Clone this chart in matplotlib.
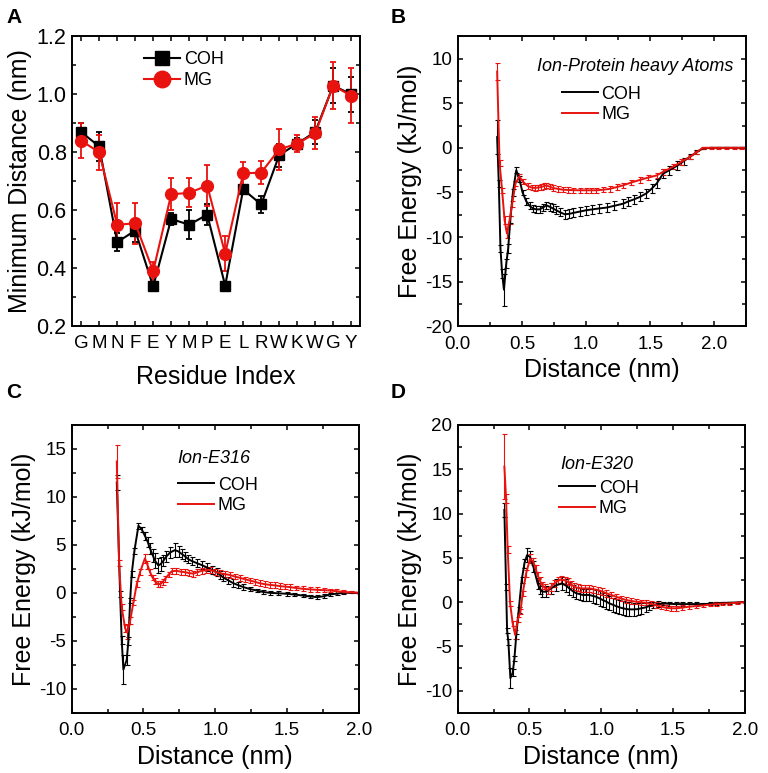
import matplotlib
matplotlib.use("Agg")
import matplotlib.pyplot as plt
from matplotlib.ticker import MultipleLocator, FixedLocator

plt.rcParams["font.family"] = ["Liberation Sans", "DejaVu Sans"]
plt.rcParams["axes.unicode_minus"] = False

# ---- panel A: minimum distance per residue
residues = ["G", "M", "N", "F", "E", "Y", "M", "P", "E", "L", "R", "W", "K", "W", "G", "Y"]
a_coh = [0.87, 0.82, 0.49, 0.53, 0.337, 0.57, 0.55, 0.585, 0.34, 0.672, 0.62, 0.79, 0.83, 0.87, 1.03, 1.0]
a_coh_err = [0.03, 0.05, 0.03, 0.04, 0.01, 0.02, 0.05, 0.035, 0.01, 0.015, 0.03, 0.04, 0.02, 0.04, 0.06, 0.06]
a_mg = [0.84, 0.80, 0.55, 0.555, 0.39, 0.655, 0.66, 0.685, 0.45, 0.727, 0.73, 0.81, 0.83, 0.865, 1.03, 0.995]
a_mg_err = [0.06, 0.06, 0.075, 0.07, 0.03, 0.055, 0.05, 0.07, 0.06, 0.04, 0.04, 0.07, 0.03, 0.055, 0.08, 0.095]

# ---- panels B-D: free energy profiles, (distance nm, energy kJ/mol, error)
b_coh = [(0.307, 1.2, 1.9), (0.32, -4.0, 0.4), (0.333, -11.3, 0.4), (0.346, -14.1, 0.5), (0.36, -15.9, 1.8),
         (0.378, -13.0, 0.5), (0.393, -11.3, 0.5), (0.41, -8.0, 0.4), (0.43, -5.0, 0.4), (0.456, -2.5, 0.3),
         (0.48, -3.5, 0.3), (0.505, -5.0, 0.3), (0.534, -6.0, 0.4), (0.56, -6.5, 0.4), (0.586, -6.8, 0.4),
         (0.612, -6.9, 0.4), (0.638, -6.9, 0.4), (0.664, -6.7, 0.4), (0.69, -6.45, 0.4), (0.716, -6.6, 0.45),
         (0.742, -6.8, 0.45), (0.768, -7.0, 0.45), (0.794, -7.2, 0.5), (0.833, -7.45, 0.5), (0.87, -7.4, 0.5),
         (0.9, -7.3, 0.5), (0.95, -7.15, 0.5), (1.0, -7.0, 0.5), (1.05, -6.9, 0.5), (1.1, -6.8, 0.5),
         (1.16, -6.7, 0.5), (1.22, -6.5, 0.5), (1.29, -6.26, 0.5), (1.33, -6.0, 0.5), (1.37, -5.8, 0.5),
         (1.42, -5.5, 0.5), (1.47, -5.1, 0.5), (1.51, -4.6, 0.5), (1.55, -4.0, 0.5), (1.6, -2.9, 0.5),
         (1.65, -2.5, 0.5), (1.71, -2.0, 0.5), (1.76, -1.5, 0.4), (1.81, -1.0, 0.3), (1.86, -0.5, 0.2),
         (1.91, -0.07, 0.1), (1.97, 0.0, 0.05), (2.03, 0.0, 0.05), (2.09, 0.0, 0.05), (2.15, 0.0, 0.05),
         (2.21, 0.0, 0.05), (2.25, 0.0, 0.05)]
b_mg = [(0.307, 8.55, 1.0), (0.326, -1.7, 0.3), (0.346, -4.8, 0.3), (0.365, -8.1, 0.4), (0.383, -9.6, 0.5),
        (0.404, -8.1, 0.4), (0.424, -6.3, 0.3), (0.45, -4.0, 0.3), (0.48, -3.2, 0.3), (0.508, -3.8, 0.3),
        (0.547, -4.3, 0.3), (0.575, -4.45, 0.3), (0.6, -4.5, 0.3), (0.625, -4.45, 0.3), (0.65, -4.4, 0.3),
        (0.67, -4.3, 0.3), (0.69, -4.2, 0.3), (0.716, -4.35, 0.3), (0.742, -4.5, 0.3), (0.78, -4.6, 0.3),
        (0.82, -4.7, 0.3), (0.86, -4.72, 0.3), (0.9, -4.75, 0.3), (0.95, -4.76, 0.3), (1.0, -4.76, 0.3),
        (1.04, -4.76, 0.3), (1.08, -4.76, 0.3), (1.13, -4.7, 0.3), (1.185, -4.6, 0.3), (1.24, -4.4, 0.3),
        (1.29, -4.2, 0.3), (1.35, -3.9, 0.3), (1.42, -3.6, 0.3), (1.48, -3.35, 0.3), (1.55, -3.1, 0.3),
        (1.6, -2.7, 0.3), (1.68, -2.1, 0.3), (1.74, -1.6, 0.3), (1.81, -1.0, 0.2), (1.86, -0.5, 0.15),
        (1.91, 0.0, 0.1), (1.97, 0.0, 0.1), (2.03, 0.0, 0.1), (2.09, 0.0, 0.1), (2.15, 0.0, 0.1),
        (2.21, 0.0, 0.1), (2.25, 0.0, 0.1)]

c_coh = [(0.314, 11.5, 0.8), (0.337, -0.1, 0.3), (0.348, -4.9, 0.4), (0.36, -8.0, 1.5), (0.383, -7.0, 0.5),
         (0.395, -5.0, 0.4), (0.407, -0.8, 0.3), (0.418, 2.0, 0.3), (0.437, 4.4, 0.3), (0.465, 7.0, 0.3),
         (0.488, 6.6, 0.3), (0.51, 5.95, 0.4), (0.53, 5.3, 0.5), (0.546, 4.6, 0.6), (0.565, 3.9, 0.7),
         (0.58, 3.35, 0.8), (0.604, 2.85, 0.8), (0.62, 3.0, 0.7), (0.639, 3.35, 0.6), (0.66, 3.8, 0.6),
         (0.685, 4.2, 0.6), (0.72, 4.46, 0.7), (0.745, 4.3, 0.6), (0.767, 4.05, 0.5), (0.79, 3.8, 0.5),
         (0.813, 3.5, 0.4), (0.84, 3.3, 0.4), (0.871, 3.1, 0.4), (0.905, 2.9, 0.4), (0.94, 2.66, 0.4),
         (0.975, 2.4, 0.4), (1.01, 2.15, 0.4), (1.035, 1.85, 0.4), (1.057, 1.6, 0.4), (1.09, 1.3, 0.4),
         (1.127, 1.0, 0.4), (1.16, 0.8, 0.3), (1.196, 0.6, 0.3), (1.24, 0.4, 0.2), (1.29, 0.24, 0.2),
         (1.33, 0.1, 0.2), (1.38, 0.0, 0.2), (1.44, -0.05, 0.2), (1.5, -0.1, 0.2), (1.55, -0.18, 0.2),
         (1.61, -0.28, 0.2), (1.66, -0.38, 0.2), (1.71, -0.45, 0.2), (1.76, -0.35, 0.2), (1.8, -0.17, 0.15),
         (1.85, -0.08, 0.1), (1.89, 0.0, 0.1), (1.95, 0.0, 0.05), (2.0, 0.0, 0.05)]
c_mg = [(0.314, 13.7, 1.7), (0.33, 3.1, 0.3), (0.348, -1.5, 0.3), (0.372, -3.7, 0.4), (0.388, -4.1, 0.7),
        (0.407, -2.9, 0.4), (0.43, -1.0, 0.3), (0.453, 0.9, 0.3), (0.476, 2.15, 0.3), (0.51, 3.6, 0.5),
        (0.528, 2.9, 0.4), (0.546, 2.15, 0.3), (0.563, 1.6, 0.3), (0.58, 1.2, 0.3), (0.598, 0.95, 0.3),
        (0.616, 0.9, 0.3), (0.633, 1.1, 0.3), (0.65, 1.45, 0.3), (0.675, 1.9, 0.3), (0.697, 2.25, 0.3),
        (0.73, 2.3, 0.3), (0.76, 2.2, 0.3), (0.79, 2.15, 0.3), (0.82, 2.05, 0.3), (0.848, 2.0, 0.3),
        (0.876, 2.15, 0.3), (0.906, 2.3, 0.3), (0.935, 2.35, 0.3), (0.964, 2.4, 0.3), (1.0, 2.2, 0.3),
        (1.034, 2.04, 0.3), (1.067, 1.95, 0.3), (1.1, 1.87, 0.3), (1.136, 1.7, 0.3), (1.173, 1.56, 0.3),
        (1.21, 1.4, 0.3), (1.243, 1.28, 0.3), (1.276, 1.15, 0.3), (1.31, 1.0, 0.3), (1.345, 0.9, 0.3),
        (1.38, 0.83, 0.3), (1.415, 0.78, 0.3), (1.45, 0.7, 0.3), (1.485, 0.65, 0.3), (1.52, 0.6, 0.3),
        (1.565, 0.5, 0.25), (1.61, 0.42, 0.25), (1.66, 0.36, 0.25), (1.71, 0.31, 0.25), (1.755, 0.28, 0.2),
        (1.8, 0.24, 0.2), (1.845, 0.17, 0.2), (1.89, 0.1, 0.15), (1.945, 0.05, 0.1), (2.0, 0.0, 0.1)]

d_coh = [(0.325, 10.4, 0.8), (0.337, 1.7, 0.3), (0.344, -3.2, 0.3), (0.353, -4.5, 0.3), (0.367, -8.6, 1.1),
         (0.383, -8.0, 0.4), (0.395, -6.4, 0.3), (0.407, -3.9, 0.3), (0.425, -0.9, 0.3), (0.446, 2.5, 0.3),
         (0.465, 4.4, 0.5), (0.483, 5.3, 0.8), (0.504, 5.1, 0.7), (0.527, 4.0, 0.6), (0.557, 2.1, 0.6),
         (0.572, 1.5, 0.6), (0.588, 1.17, 0.6), (0.616, 1.17, 0.6), (0.65, 1.54, 0.6), (0.685, 1.9, 0.7),
         (0.727, 2.1, 0.7), (0.755, 1.85, 0.7), (0.778, 1.54, 0.7), (0.8, 1.25, 0.7), (0.825, 1.0, 0.7),
         (0.85, 0.9, 0.7), (0.87, 0.8, 0.7), (0.895, 0.8, 0.7), (0.917, 0.8, 0.7), (0.94, 0.7, 0.8),
         (0.964, 0.6, 0.8), (0.99, 0.4, 0.8), (1.01, 0.23, 0.8), (1.035, 0.05, 0.8), (1.057, -0.15, 0.8),
         (1.08, -0.3, 0.8), (1.103, -0.45, 0.8), (1.127, -0.6, 0.8), (1.15, -0.7, 0.8), (1.173, -0.78, 0.8),
         (1.196, -0.83, 0.8), (1.225, -0.83, 0.7), (1.254, -0.8, 0.7), (1.28, -0.7, 0.6), (1.31, -0.6, 0.5),
         (1.335, -0.45, 0.4), (1.36, -0.34, 0.3), (1.395, -0.22, 0.3), (1.43, -0.15, 0.2), (1.475, -0.2, 0.2),
         (1.52, -0.23, 0.2), (1.565, -0.23, 0.2), (1.61, -0.23, 0.2), (1.66, -0.23, 0.2), (1.71, -0.23, 0.15),
         (1.755, -0.2, 0.15), (1.8, -0.15, 0.15), (1.845, -0.1, 0.1), (1.89, -0.08, 0.1), (1.945, -0.04, 0.1),
         (2.0, 0.0, 0.1)]
d_mg = [(0.325, 15.3, 3.7), (0.337, 11.7, 0.5), (0.348, 5.9, 0.4), (0.365, -0.15, 0.3), (0.383, -2.4, 0.3),
        (0.4, -3.7, 0.5), (0.418, -2.0, 0.3), (0.437, -1.1, 0.3), (0.453, 1.0, 0.3), (0.476, 3.2, 0.4),
        (0.504, 4.9, 0.5), (0.527, 4.55, 0.4), (0.542, 3.8, 0.4), (0.557, 3.0, 0.4), (0.572, 2.4, 0.4),
        (0.588, 1.9, 0.4), (0.607, 1.6, 0.4), (0.627, 1.35, 0.4), (0.65, 1.7, 0.4), (0.674, 2.1, 0.4),
        (0.697, 2.4, 0.4), (0.72, 2.55, 0.4), (0.745, 2.45, 0.4), (0.767, 2.3, 0.4), (0.79, 2.0, 0.4),
        (0.813, 1.73, 0.4), (0.836, 1.6, 0.4), (0.86, 1.54, 0.4), (0.888, 1.54, 0.4), (0.917, 1.54, 0.4),
        (0.946, 1.45, 0.4), (0.976, 1.35, 0.4), (1.005, 1.2, 0.4), (1.034, 1.0, 0.4), (1.07, 0.8, 0.3),
        (1.103, 0.6, 0.3), (1.14, 0.4, 0.3), (1.173, 0.23, 0.3), (1.21, 0.12, 0.3), (1.243, 0.04, 0.3),
        (1.276, -0.02, 0.3), (1.31, -0.08, 0.3), (1.345, -0.2, 0.3), (1.38, -0.34, 0.3), (1.415, -0.5, 0.3),
        (1.45, -0.64, 0.3), (1.485, -0.7, 0.3), (1.52, -0.71, 0.3), (1.565, -0.63, 0.3), (1.61, -0.53, 0.3),
        (1.66, -0.45, 0.2), (1.71, -0.38, 0.2), (1.755, -0.3, 0.2), (1.8, -0.23, 0.2), (1.845, -0.18, 0.2),
        (1.89, -0.15, 0.15), (1.945, -0.08, 0.1), (2.0, 0.0, 0.1)]

RED = "#e8130f"
TICK_FS = 13.5
LABEL_FS = 18


def style_axes(ax, tick_fs=TICK_FS):
    for s in ax.spines.values():
        s.set_linewidth(1.4)
    ax.tick_params(which="both", direction="in", top=True, right=True, width=1.1, labelsize=tick_fs)
    ax.tick_params(which="major", length=3.5)
    ax.tick_params(which="minor", length=3.0)
    ax.tick_params(axis="x", which="both", pad=7)
    ax.tick_params(axis="y", which="both", pad=4)


def energy_panel(ax, coh, mg, xmax, ylim, title, leg_xy, title_xy, title_ha="left"):
    for data, col in ((coh, "black"), (mg, RED)):
        x = [p[0] for p in data]
        y = [p[1] for p in data]
        e = [p[2] for p in data]
        ax.errorbar(x, y, yerr=e, color=col, lw=1.4, elinewidth=0.8, capsize=1.8, capthick=0.8,
                    label="COH" if col == "black" else "MG")
    ax.set_xlim(0, xmax)
    ax.set_ylim(*ylim)
    ax.xaxis.set_major_locator(MultipleLocator(0.5))
    ax.xaxis.set_minor_locator(MultipleLocator(0.25))
    ax.yaxis.set_major_locator(MultipleLocator(5))
    ax.yaxis.set_minor_locator(MultipleLocator(2.5))
    ax.xaxis.set_major_formatter(lambda v, p: f"{v:.1f}")
    ax.set_xlabel("Distance (nm)", fontsize=LABEL_FS, labelpad=4)
    ax.set_ylabel("Free Energy (kJ/mol)", fontsize=LABEL_FS, labelpad=2)
    style_axes(ax)
    h, l = ax.get_legend_handles_labels()
    h = [hh[0] for hh in h]
    ax.legend(h, l, loc="upper left", bbox_to_anchor=leg_xy, frameon=False, fontsize=13,
              handlelength=2.0, handletextpad=0.2, labelspacing=0.2, borderpad=0, borderaxespad=0)
    ax.text(title_xy[0], title_xy[1], title, transform=ax.transAxes, fontsize=13, style="italic",
            ha=title_ha, va="center")


fig = plt.figure(figsize=(7.68, 7.73), dpi=100)

axA = fig.add_axes([0.094, 0.578, 0.375, 0.375])
axB = fig.add_axes([0.596, 0.578, 0.376, 0.375])
axC = fig.add_axes([0.0934, 0.078, 0.3737, 0.3722])
axD = fig.add_axes([0.596, 0.078, 0.3737, 0.3722])

# panel A
pos = list(range(1, len(residues) + 1))
axA.errorbar(pos, a_coh, yerr=a_coh_err, color="black", marker="s", ms=7, lw=1.5,
             elinewidth=1.3, capsize=2.5, capthick=1.3, label="COH")
axA.errorbar(pos, a_mg, yerr=a_mg_err, color=RED, marker="o", ms=8.5, lw=1.5,
             elinewidth=1.3, capsize=2.5, capthick=1.3, label="MG")
axA.set_xlim(0.5, len(residues) + 0.5)
axA.set_ylim(0.2, 1.2)
axA.xaxis.set_major_locator(FixedLocator(pos))
axA.set_xticklabels(residues)
axA.yaxis.set_major_locator(MultipleLocator(0.2))
axA.yaxis.set_minor_locator(MultipleLocator(0.1))
axA.yaxis.set_major_formatter(lambda v, p: f"{v:.1f}")
style_axes(axA, tick_fs=15.5)
axA.tick_params(axis="x", labelsize=13.5, pad=6)
axA.set_xlabel("Residue Index", fontsize=LABEL_FS, labelpad=10)
axA.set_ylabel("Minimum Distance (nm)", fontsize=LABEL_FS, labelpad=3)
hA, lA = axA.get_legend_handles_labels()
hA = [hh[0] for hh in hA]
axA.legend(hA, lA, loc="upper left", bbox_to_anchor=(0.25, 0.95), frameon=False, fontsize=13,
           handlelength=2.0, handletextpad=0.2, labelspacing=0.25, borderpad=0, borderaxespad=0,
           markerscale=1.4)

energy_panel(axB, b_coh, b_mg, 2.25, (-20, 12.5), "Ion-Protein heavy Atoms",
             (0.36, 0.83), (0.956, 0.895), title_ha="right")
energy_panel(axC, c_coh, c_mg, 2.0, (-12.5, 17.5), "Ion-E316", (0.37, 0.82), (0.367, 0.885))
energy_panel(axD, d_coh, d_mg, 2.0, (-12.5, 20), "Ion-E320", (0.353, 0.81), (0.356, 0.861))

for lbl, x, y in (("A", 0.008, 0.99), ("B", 0.508, 0.99), ("C", 0.008, 0.505), ("D", 0.508, 0.505)):
    fig.text(x, y, lbl, fontsize=15, fontweight="bold", ha="left", va="top")

fig.savefig("out.png", dpi=100)
